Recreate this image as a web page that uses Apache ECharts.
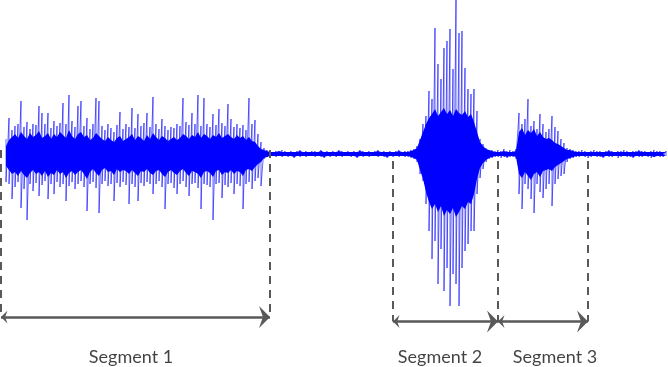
<!DOCTYPE html>
<html>
<head>
<meta charset="utf-8">
<script src="https://cdn.jsdelivr.net/npm/echarts@6/dist/echarts.min.js"></script>
<style>
html, body { margin: 0; padding: 0; background: #fff; }
#chart { width: 668px; height: 367px; }
</style>
</head>
<body>
<div id="chart"></div>
<script>
// waveform: peak above / below the baseline per column
const waveStart = 6
const waveStep = 3

const seg1Hi = [15,36,24,28,30,53,27,32,25,30, 29,48,41,30,41,26,33,28,31,51, 30,59,33,27,48,53,28,36,25,30,
  56,53,28,24,30,26,22,29,42,25, 30,27,46,26,40,28,31,41,27,57, 30,25,35,28,24,27,26,30,28,56,
  32,29,41,30,59,28,56,30,27,40, 29,45,31,28,50,35,27,30,26,29, 24,56,30,34,20,12]
const seg1Lo = [-28,-30,-45,-33,-28,-54,-35,-66,-30,-37, -29,-42,-31,-27,-45,-30,-40,-28,-33,-30,
  -47,-32,-28,-35,-30,-27,-33,-57,-30,-28, -34,-59,-30,-27,-32,-30,-47,-29,-33,-28,
  -31,-50,-30,-33,-47,-29,-32,-28,-30,-40, -30,-27,-33,-55,-30,-29,-34,-40,-30,-27,
  -33,-42,-30,-29,-34,-55,-30,-31,-33,-66, -30,-29,-44,-31,-33,-29,-40,-30,-32,-55,
  -30,-28,-35,-27,-24,-32]
const gap1Hi = [6,4,3,2,3,2,4,3,2,3, 2,3,4,2,3,2,3,3,2,4, 2,3,2,3,2,4,3,2,3,2, 3,2,4,3,2,3,2,3,4,2, 3,2,3,2,3,4,2,3,3,4, 5]
const gap1Lo = [-5,-3,-3,-2,-3,-2,-3,-2,-3,-2, -4,-2,-3,-2,-3,-2,-2,-3,-2,-3, -4,-2,-3,-2,-3,-2,-3,-2,-2,-3,
  -2,-4,-2,-3,-2,-3,-2,-2,-3,-2, -3,-4,-2,-3,-2,-3,-2,-3,-3,-4, -5]
const seg2Hi = [8,15,30,38,63,55,126,90,75,106, 113,125,85,154,121,123,86,65,60,65, 43,15,10,6,4]
const seg2Lo = [-8,-20,-27,-50,-77,-105,-87,-130,-95,-137, -114,-152,-120,-130,-152,-114,-97,-90,-77,-77, -40,-24,-15,-8,-5]
const gap2Hi = [4,3,4,3,5,3,4,3,5]
const gap2Lo = [-4,-3,-3,-4,-3,-4,-3,-3,-5]
const seg3Hi = [41,30,35,55,28,33,25,40,30,22,25,38,27,23,15,11,6]
const seg3Lo = [-40,-55,-30,-35,-45,-59,-30,-38,-44,-35,-30,-52,-30,-25,-22,-20,-8]
const gap3Hi = [5,4,3,3,4,3,2,3,4,3, 3,2,3,4,3,2,3,3,4,3, 2,3,3,4,3,3,2,3,4,3, 3,2,3]
const gap3Lo = [-5,-4,-3,-3,-2,-3,-4,-3,-2,-3, -3,-4,-2,-3,-3,-2,-4,-3,-2,-3, -3,-4,-2,-3,-3,-2,-3,-4,-3,-2, -3,-3,-2]

// dense core of the signal (solid blue), same columns
const core1Hi = [8,14,17,20,16,22,18,15,21,17, 19,23,16,18,21,15,20,17,22,19, 16,24,18,15,20,22,17,19,14,16,
  21,18,15,13,17,14,12,16,18,13, 15,17,20,14,18,16,13,19,15,21, 17,14,18,16,13,15,17,14,16,20,
  18,15,19,17,22,16,20,18,15,19, 17,21,16,18,20,17,15,19,16,18, 14,17,13,12,8,5]
const core1Lo = [-12,-16,-20,-18,-22,-17,-21,-24,-19,-16, -20,-18,-22,-17,-23,-19,-21,-16,-20,-18,
  -24,-19,-17,-21,-18,-16,-20,-25,-18,-15, -19,-22,-16,-14,-18,-17,-21,-15,-18,-16,
  -17,-20,-16,-19,-22,-17,-18,-15,-19,-21, -17,-16,-20,-23,-18,-16,-19,-21,-17,-15,
  -19,-22,-17,-18,-20,-24,-18,-17,-19,-23, -17,-16,-21,-18,-19,-16,-20,-17,-18,-22,
  -16,-15,-17,-13,-10,-8]
const gapCore1Hi = [4,3,2,2,2,3,2,2,2,2, 2,2,3,2,2,2,2,2,2,3, 2,2,2,2,2,3,2,2,2,2, 2,2,3,2,2,2,2,2,3,2, 2,2,2,2,2,3,2,2,2,3, 4]
const gapCore1Lo = [-4,-3,-2,-2,-2,-2,-2,-2,-2,-2, -3,-2,-2,-2,-2,-2,-2,-2,-2,-2, -3,-2,-2,-2,-2,-2,-2,-2,-2,-2,
  -2,-3,-2,-2,-2,-2,-2,-2,-2,-2, -2,-3,-2,-2,-2,-2,-2,-2,-2,-3, -4]
const core2Hi = [6,14,22,30,36,40,45,38,42,46, 40,44,38,45,41,39,43,37,40,32, 22,12,8,5,4]
const core2Lo = [-6,-16,-25,-38,-48,-55,-50,-58,-52,-62, -56,-60,-54,-63,-58,-52,-55,-48,-50,-40, -25,-14,-9,-6,-4]
const gapCore2Hi = [3,2,2,2,3,2,2,2,3]
const gapCore2Lo = [-3,-2,-2,-2,-2,-3,-2,-2,-3]
const core3Hi = [22,26,19,24,21,25,18,22,17,15, 16,14,11,10,8,6,4]
const core3Lo = [-20,-24,-18,-22,-26,-20,-18,-23,-17,-16, -15,-17,-13,-11,-9,-7,-5]
const gapCore3Hi = [4,3,2,2,2,2,2,2,2,2, 2,2,2,3,2,2,2,2,2,2, 2,2,2,3,2,2,2,2,2,2, 2,2,2]
const gapCore3Lo = [-4,-3,-2,-2,-2,-2,-2,-2,-2,-2, -2,-3,-2,-2,-2,-2,-2,-2,-2,-2, -2,-3,-2,-2,-2,-2,-2,-2,-3,-2, -2,-2,-2]

// segment markers
const dividerX = [1, 270, 393, 498, 588]
const dividerTop = [4, 4, -7, -7, -7]
const dividerBottom = [-163, -163, -167.5, -167.5, -167.5]
const segNames = ['Segment 1', 'Segment 2', 'Segment 3']
const segFrom = [1, 393, 498]
const segTo = [270, 498, 588]
const arrowY = [-163, -167.5, -167.5]
const labelX = [131, 440, 555]
const labelY = -203

const waveHi = [...seg1Hi, ...gap1Hi, ...seg2Hi, ...gap2Hi, ...seg3Hi, ...gap3Hi]
const waveLo = [...seg1Lo, ...gap1Lo, ...seg2Lo, ...gap2Lo, ...seg3Lo, ...gap3Lo]
const coreHi = [...core1Hi, ...gapCore1Hi, ...core2Hi, ...gapCore2Hi, ...core3Hi, ...gapCore3Hi]
const coreLo = [...core1Lo, ...gapCore1Lo, ...core2Lo, ...gapCore2Lo, ...core3Lo, ...gapCore3Lo]

const wave = []
waveHi.forEach((h, i) => {
    const t = waveStart + i * waveStep
    wave.push([t, h], [t, waveLo[i]])
})
const coreTop = coreHi.map((v, i) => [waveStart + i * waveStep, v])
const coreBottom = coreLo.map((v, i) => [waveStart + i * waveStep, v])

// arrow head with its tip in the middle of the symbol box
const arrowHead = 'path://M6,-11 L6,-11 M6,0 L12,11 L6,7 L0,11 Z'

const chart = echarts.init(document.getElementById('chart'))
const option = {
    animation: false,
    grid: { left: 0, right: 0, top: 0, bottom: 0 },
    xAxis: { type: 'value', min: 0, max: 668, show: false },
    yAxis: { type: 'value', min: -213, max: 154, show: false },
    series: [
        {
            type: 'line',
            data: wave,
            showSymbol: false,
            silent: true,
            z: 2,
            lineStyle: { color: 'rgba(0,0,255,0.6)', width: 1 }
        },
        {
            type: 'line',
            data: coreTop,
            showSymbol: false,
            silent: true,
            z: 3,
            lineStyle: { width: 0 },
            areaStyle: { color: '#0000ff', opacity: 1 }
        },
        {
            type: 'line',
            data: coreBottom,
            showSymbol: false,
            silent: true,
            z: 3,
            lineStyle: { width: 0 },
            areaStyle: { color: '#0000ff', opacity: 1 }
        },
        {
            type: 'lines',
            coordinateSystem: 'cartesian2d',
            silent: true,
            z: 4,
            lineStyle: { color: '#595959', width: 2, type: [8, 6], opacity: 1 },
            data: dividerX.map((x, i) => ({ coords: [[x, dividerTop[i]], [x, dividerBottom[i]]] }))
        },
        {
            type: 'lines',
            coordinateSystem: 'cartesian2d',
            silent: true,
            z: 4,
            symbol: [arrowHead, arrowHead],
            symbolSize: [13, 22],
            lineStyle: { color: '#595959', width: 2.5, type: 'solid', opacity: 1 },
            data: segFrom.map((x, i) => ({ coords: [[x, arrowY[i]], [segTo[i], arrowY[i]]] }))
        },
        {
            type: 'scatter',
            silent: true,
            symbolSize: 1,
            itemStyle: { color: 'transparent' },
            label: {
                show: true,
                position: 'inside',
                formatter: (p) => p.name,
                color: '#111',
                fontFamily: 'Lato',
                fontSize: 18
            },
            data: segNames.map((n, i) => ({ name: n, value: [labelX[i], labelY] }))
        }
    ]
}
chart.setOption(option)
</script>
</body>
</html>
